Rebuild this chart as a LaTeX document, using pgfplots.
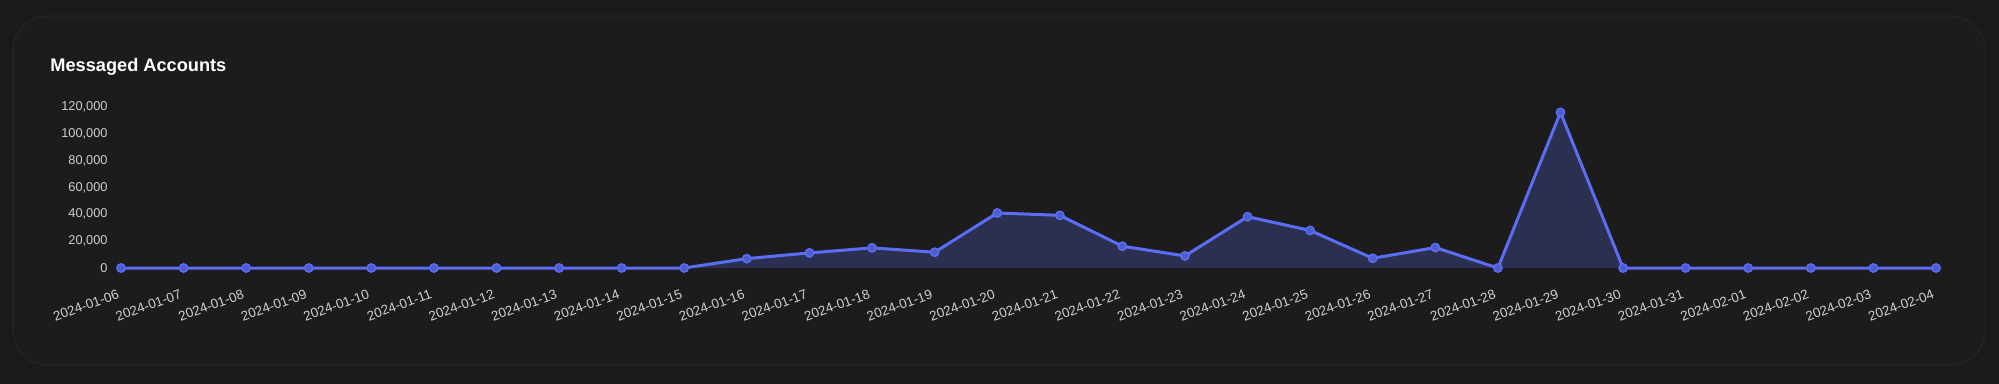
\documentclass[border=0pt]{standalone}
\usepackage{pgfplots}
\pgfplotsset{compat=1.18}
\usepackage{fontspec}
\setmainfont{Liberation Sans}
\definecolor{pagebg}{HTML}{1A1A1A}
\definecolor{cardbg}{HTML}{1C1C1C}
\definecolor{cardedge}{HTML}{242424}
\definecolor{linecol}{HTML}{5B6DF2}
\definecolor{fillcol}{HTML}{2B3050}
\definecolor{ticktext}{HTML}{CFCFCF}
\begin{document}
\begin{tikzpicture}
\useasboundingbox (0,0) rectangle (999.5bp,192bp);
\fill[pagebg] (0,0) rectangle (999.5bp,192bp);
\filldraw[fill=cardbg, draw=cardedge, line width=0.6bp, rounded corners=17bp] (6.5bp,9.5bp) rectangle (992.5bp,184bp);
\node[anchor=base west, inner sep=0pt, text=white, font=\bfseries\fontsize{9.1bp}{10bp}\selectfont] at (25bp,156bp) {Messaged Accounts};
\begin{axis}[
  at={(60.5bp,58bp)}, anchor=south west,
  scale only axis, width=907.5bp, height=80.5bp,
  xmin=0, xmax=29, ymin=0, ymax=120000,
  axis lines*=left, axis line style={draw=none}, clip=false,
  xtick={0,...,29},
  xticklabels={2024-01-06,2024-01-07,2024-01-08,2024-01-09,2024-01-10,2024-01-11,2024-01-12,2024-01-13,2024-01-14,2024-01-15,2024-01-16,2024-01-17,2024-01-18,2024-01-19,2024-01-20,2024-01-21,2024-01-22,2024-01-23,2024-01-24,2024-01-25,2024-01-26,2024-01-27,2024-01-28,2024-01-29,2024-01-30,2024-01-31,2024-02-01,2024-02-02,2024-02-03,2024-02-04},
  ytick={0,20000,40000,60000,80000,100000,120000},
  yticklabels={0,{20,000},{40,000},{60,000},{80,000},{100,000},{120,000}},
  scaled y ticks=false,
  major tick length=0pt, tick style={draw=none},
  tick label style={text=ticktext},
  yticklabel style={anchor=east, inner sep=0pt, xshift=-6.5bp, font=\fontsize{6.4bp}{7.5bp}\selectfont},
  xticklabel style={rotate=20, anchor=north east, inner sep=0pt, yshift=-9bp, xshift=-5.5bp, font=\fontsize{6.7bp}{7.5bp}\selectfont},
]
\addplot[fill=fillcol, draw=none] coordinates {
(0,0) (1,0) (2,0) (3,0) (4,0) (5,0) (6,0) (7,0) (8,0) (9,0)
(10,7000) (11,11250) (12,15000) (13,11750) (14,41000) (15,39250)
(16,16250) (17,9000) (18,38250) (19,28000) (20,7250) (21,15250)
(22,0) (23,116000) (24,0) (25,0) (26,0) (27,0) (28,0) (29,0)
} \closedcycle;
\addplot[draw=linecol, line width=1.5bp, mark=*, mark size=2.1bp,
  mark options={draw=linecol, fill=linecol!85!black, line width=0.7bp}] coordinates {
(0,0) (1,0) (2,0) (3,0) (4,0) (5,0) (6,0) (7,0) (8,0) (9,0)
(10,7000) (11,11250) (12,15000) (13,11750) (14,41000) (15,39250)
(16,16250) (17,9000) (18,38250) (19,28000) (20,7250) (21,15250)
(22,0) (23,116000) (24,0) (25,0) (26,0) (27,0) (28,0) (29,0)
};
\end{axis}
\end{tikzpicture}
\end{document}
